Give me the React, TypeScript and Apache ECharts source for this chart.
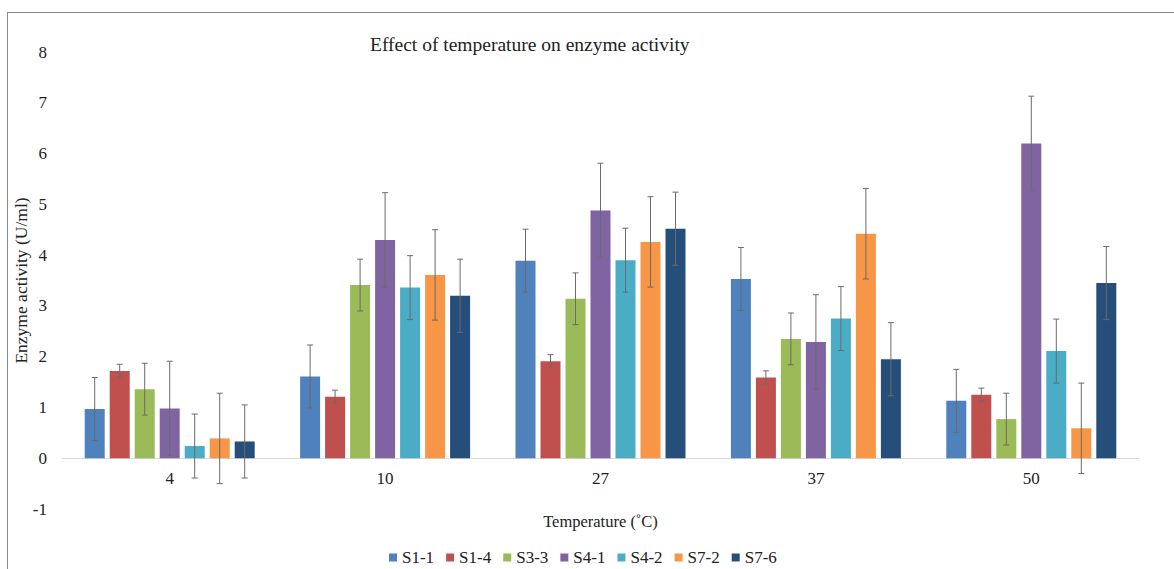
import React, { useEffect, useRef } from "react";
import * as echarts from "echarts";

const categories = ["4", "10", "27", "37", "50"];
const seriesNames = ["S1-1", "S1-4", "S3-3", "S4-1", "S4-2", "S7-2", "S7-6"];
const colors = ["#4F81BD", "#C0504D", "#9BBB59", "#8064A2", "#4BACC6", "#F79646", "#264E7A"];

const s11 = [0.97, 1.61, 3.89, 3.53, 1.13];
const s14 = [1.72, 1.21, 1.91, 1.59, 1.25];
const s33 = [1.36, 3.41, 3.14, 2.35, 0.77];
const s41 = [0.98, 4.3, 4.88, 2.29, 6.2];
const s42 = [0.24, 3.36, 3.9, 2.75, 2.11];
const s72 = [0.39, 3.61, 4.26, 4.42, 0.59];
const s76 = [0.33, 3.2, 4.52, 1.95, 3.45];

const e11 = [0.62, 0.62, 0.62, 0.62, 0.62];
const e14 = [0.13, 0.13, 0.13, 0.13, 0.13];
const e33 = [0.51, 0.51, 0.51, 0.51, 0.51];
const e41 = [0.93, 0.93, 0.93, 0.93, 0.93];
const e42 = [0.63, 0.63, 0.63, 0.63, 0.63];
const e72 = [0.89, 0.89, 0.89, 0.89, 0.89];
const e76 = [0.72, 0.72, 0.72, 0.72, 0.72];

const values = [s11, s14, s33, s41, s42, s72, s76];
const errors = [e11, e14, e33, e41, e42, e72, e76];

const yTicks = { min: -1, max: 8, interval: 1 };

const FONT = "Liberation Serif";
const BAR_W = 20;
const BAR_GAP = 5;

export default function App() {
  const ref = useRef<HTMLDivElement>(null);
  useEffect(() => {
    if (!ref.current) return;
    const chart = echarts.init(ref.current, null, { renderer: "svg" });

    const errData: any[] = [];
    values.forEach((vals, si) => {
      vals.forEach((v, ci) => {
        errData.push([ci, v, errors[si][ci], si]);
      });
    });

    const n = seriesNames.length;
    const step = BAR_W + BAR_GAP;

    const barSeries = seriesNames.map((name, si) => ({
      name,
      type: "bar",
      data: values[si],
      barWidth: BAR_W,
      barGap: (BAR_GAP / BAR_W) * 100 + "%",
      itemStyle: { color: colors[si] },
    }));

    const errSeries = {
      type: "custom",
      name: "err",
      data: errData,
      encode: { x: 0, y: 1 },
      z: 10,
      silent: true,
      renderItem: (params: any, api: any) => {
        const ci = api.value(0);
        const v = api.value(1);
        const e = api.value(2);
        const si = api.value(3);
        const hi = api.coord([ci, v + e]);
        const lo = api.coord([ci, v - e]);
        const x = hi[0] + (si - (n - 1) / 2) * step;
        const cap = 3;
        const style = { stroke: "#6b6b6b", lineWidth: 1 };
        return {
          type: "group",
          children: [
            { type: "line", shape: { x1: x, y1: hi[1], x2: x, y2: lo[1] }, style },
            { type: "line", shape: { x1: x - cap, y1: hi[1], x2: x + cap, y2: hi[1] }, style },
            { type: "line", shape: { x1: x - cap, y1: lo[1], x2: x + cap, y2: lo[1] }, style },
          ],
        };
      },
    };

    chart.setOption({
      animation: false,
      textStyle: { fontFamily: FONT },
      graphic: [
        { type: "line", shape: { x1: 7, y1: 12.5, x2: 1174, y2: 12.5 }, style: { stroke: "#8a8a8a", lineWidth: 1 } },
        { type: "line", shape: { x1: 7.5, y1: 12, x2: 7.5, y2: 569 }, style: { stroke: "#8a8a8a", lineWidth: 1 } },
        {
          type: "text",
          left: 370,
          top: 34,
          style: { text: "Effect of temperature on enzyme activity", font: "19.5px 'Liberation Serif'", fill: "#222" },
        },
      ],
      grid: { left: 62, right: 35, top: 52, bottom: 60, containLabel: false, outerBoundsMode: "none" },
      legend: {
        data: seriesNames,
        left: 384,
        top: 544,
        itemWidth: 8,
        itemHeight: 8,
        itemGap: 12,
        icon: "rect",
        textStyle: { fontFamily: FONT, fontSize: 17, color: "#222" },
      },
      xAxis: {
        type: "category",
        data: categories,
        name: "Temperature (˚C)",
        nameLocation: "middle",
        nameGap: 4,
        nameMoveOverlap: false,
        nameTextStyle: { fontFamily: FONT, fontSize: 16.5, color: "#222" },
        axisLine: { onZero: true, lineStyle: { color: "#d9d9d9" } },
        axisTick: { show: false },
        axisLabel: { fontFamily: FONT, fontSize: 17, color: "#222", margin: -39 },
      },
      yAxis: {
        type: "value",
        min: yTicks.min,
        max: yTicks.max,
        interval: yTicks.interval,
        name: "Enzyme activity (U/ml)",
        nameLocation: "middle",
        nameGap: 32,
        nameMoveOverlap: false,
        nameTextStyle: { fontFamily: FONT, fontSize: 17.5, color: "#222" },
        axisLine: { show: false },
        axisTick: { show: false },
        splitLine: { show: false },
        axisLabel: { fontFamily: FONT, fontSize: 17, color: "#222", margin: 15 },
      },
      series: [...barSeries, errSeries],
    });
    return () => chart.dispose();
  }, []);
  return (
    <div
      ref={ref}
      style={{ position: "fixed", left: 0, top: 0, width: 1174, height: 569, background: "#fff" }}
    />
  );
}
